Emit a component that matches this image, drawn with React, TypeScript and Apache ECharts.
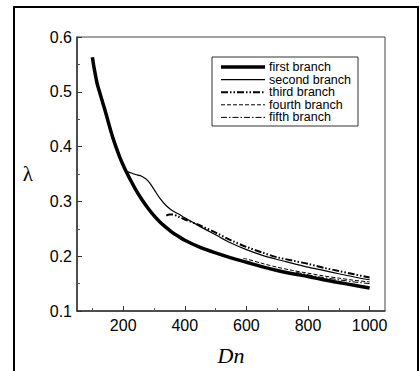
import React, { useEffect, useRef } from "react";
import * as echarts from "echarts";

const firstDn = [100, 105, 115, 120, 130, 140, 150, 160, 170, 180, 190, 200, 210, 220, 240, 260, 280, 300, 320, 340, 360, 380, 400, 450, 500, 550, 600, 650, 700, 750, 800, 850, 900, 950, 1000];
const firstL = [0.563, 0.545, 0.516, 0.506, 0.487, 0.468, 0.448, 0.428, 0.41, 0.394, 0.379, 0.366, 0.354, 0.343, 0.322, 0.304, 0.288, 0.274, 0.262, 0.252, 0.243, 0.236, 0.229, 0.216, 0.206, 0.197, 0.189, 0.181, 0.174, 0.168, 0.163, 0.157, 0.152, 0.147, 0.142];

const secondDn = [210, 220, 240, 260, 280, 300, 320, 340, 360, 380, 400, 450, 500, 550, 600, 650, 700, 750, 800, 850, 900, 950, 1000];
const secondL = [0.355, 0.353, 0.349, 0.346, 0.338, 0.322, 0.305, 0.292, 0.283, 0.277, 0.27, 0.254, 0.239, 0.224, 0.212, 0.202, 0.194, 0.187, 0.18, 0.174, 0.168, 0.162, 0.157];

const thirdDn = [340, 350, 360, 380, 400, 450, 500, 550, 600, 650, 700, 750, 800, 850, 900, 950, 1000];
const thirdL = [0.274, 0.276, 0.276, 0.272, 0.267, 0.256, 0.243, 0.229, 0.217, 0.207, 0.198, 0.192, 0.186, 0.179, 0.173, 0.167, 0.161];

const fourthDn = [590, 600, 650, 700, 750, 800, 850, 900, 950, 1000];
const fourthL = [0.196, 0.195, 0.187, 0.18, 0.174, 0.169, 0.164, 0.16, 0.156, 0.153];

const fifthDn = [760, 800, 850, 900, 950, 1000];
const fifthL = [0.171, 0.166, 0.161, 0.157, 0.153, 0.15];

const seriesNames = ["first branch", "second branch", "third branch", "fourth branch", "fifth branch"];
const lineWidths = [3.5, 1.2, 2, 1, 1];
const dashTypes: any[] = ["solid", "solid", [7, 2, 1.5, 2, 1.5, 2], [4, 2], [6, 2, 1.5, 2]];
const xMajorTicks = [200, 400, 600, 800, 1000];
const xMinorTicks = [100, 300, 500, 700, 900];

const zip = (xs: number[], ys: number[]) => xs.map((x, i) => [x, ys[i]]);

export default function App() {
  const ref = useRef<HTMLDivElement>(null);
  useEffect(() => {
    if (!ref.current) return;
    const chart = echarts.init(ref.current, undefined, { renderer: "svg" });
    const sans = "Liberation Sans, Arial, sans-serif";
    const mk = (i: number, data: number[][]) => ({
      name: seriesNames[i],
      type: "line",
      data,
      showSymbol: false,
      symbol: "none",
      smooth: 0.3,
      lineStyle: { color: "#000", width: lineWidths[i], type: dashTypes[i] },
      itemStyle: { color: "#000" },
      z: 3,
    });
    const legendX = 212, legendY = 57, rowStep = 12.6;
    const legendEls: any[] = [
      {
        type: "rect",
        shape: { x: legendX, y: legendY, width: 146, height: 69 },
        style: { fill: "#fff", stroke: "#333", lineWidth: 1 },
        z: 10,
      },
    ];
    seriesNames.forEach((n, i) => {
      const cy = legendY + 10 + i * rowStep;
      legendEls.push({
        type: "line",
        shape: { x1: 221, y1: cy, x2: 265, y2: cy },
        style: { stroke: "#000", lineWidth: lineWidths[i], lineDash: dashTypes[i] === "solid" ? null : dashTypes[i] },
        z: 11,
      });
      legendEls.push({
        type: "text",
        x: 269,
        y: cy,
        style: { text: n, fontFamily: sans, fontSize: 12.5, fill: "#000", verticalAlign: "middle", align: "left" },
        z: 11,
      });
    });
    chart.setOption({
      animation: false,
      backgroundColor: "#fff",
      grid: { left: 77, right: 35, top: 37, bottom: 54, show: true, borderColor: "#444", borderWidth: 1 },
      xAxis: [
        {
          type: "value",
          min: 50,
          max: 1050,
          name: "Dn",
          nameLocation: "middle",
          nameGap: 33,
          nameTextStyle: { fontFamily: "Liberation Serif, Times New Roman, serif", fontStyle: "italic", fontSize: 22, color: "#000" },
          axisLine: { show: true, lineStyle: { color: "#333", width: 1.5 } },
          axisTick: { show: true, inside: true, length: 5, customValues: xMajorTicks, lineStyle: { color: "#333", width: 1 } },
          axisLabel: { customValues: xMajorTicks, fontFamily: sans, fontSize: 16, color: "#000", margin: 6, formatter: (v: number) => String(v) },
          splitLine: { show: false },
        },
        {
          type: "value",
          min: 50,
          max: 1050,
          position: "bottom",
          axisLine: { show: false },
          axisTick: { show: true, inside: true, length: 3, customValues: xMinorTicks, lineStyle: { color: "#555", width: 1 } },
          axisLabel: { show: false },
          splitLine: { show: false },
        },
      ],
      yAxis: {
        type: "value",
        min: 0.1,
        max: 0.6,
        interval: 0.1,
        name: "λ",
        nameLocation: "middle",
        nameGap: 44,
        nameRotate: 0,
        nameTextStyle: { fontFamily: "Liberation Serif, Times New Roman, serif", fontSize: 21, color: "#000" },
        axisLine: { show: true, lineStyle: { color: "#333", width: 1.5 } },
        axisTick: { show: true, inside: true, length: 5, lineStyle: { color: "#333", width: 1 } },
        minorTick: { show: true, splitNumber: 2, length: 3, lineStyle: { color: "#555", width: 1 } },
        axisLabel: { fontFamily: sans, fontSize: 16, color: "#000", margin: 5, formatter: (v: number) => v.toFixed(1) },
        splitLine: { show: false },
      },
      graphic: [
        {
          type: "rect",
          shape: { x: 14, y: 7, width: 404, height: 372 },
          style: { fill: "none", stroke: "#000", lineWidth: 2 },
          silent: true,
        },
        ...legendEls,
      ],
      series: [
        mk(0, zip(firstDn, firstL)),
        mk(1, zip(secondDn, secondL)),
        mk(2, zip(thirdDn, thirdL)),
        mk(3, zip(fourthDn, fourthL)),
        mk(4, zip(fifthDn, fifthL)),
      ],
    });
    return () => chart.dispose();
  }, []);
  return <div ref={ref} style={{ position: "fixed", left: 0, top: 0, width: 420, height: 371 }} />;
}
